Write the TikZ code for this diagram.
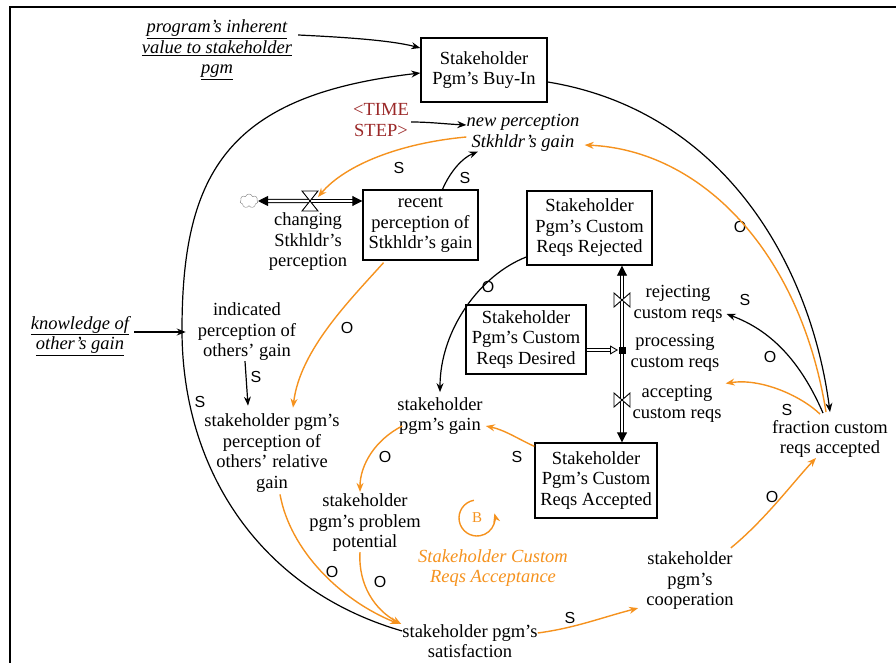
\documentclass[tikz,border=0pt]{standalone}
\usepackage{fontspec}
\setmainfont{Liberation Serif}
\newfontfamily\lblfont{Liberation Sans}
\usetikzlibrary{arrows.meta,shapes.symbols,calc}
\definecolor{vorange}{RGB}{245,146,30}
\definecolor{vred}{RGB}{155,40,40}
\begin{document}
\begin{tikzpicture}[x=1pt,y=-1pt,
  txt/.style={font=\fontsize{18.5}{20.5}\selectfont, align=center, inner sep=0pt},
  itxt/.style={font=\fontsize{18.5}{20.5}\selectfont\itshape, align=center, inner sep=0pt},
  stock/.style={txt, draw, line width=1.4pt},
  pol/.style={font=\lblfont\fontsize{16}{16}\selectfont, inner sep=0pt},
  tipa/.style={-{Stealth[length=9pt,width=7pt]}},
  blk/.style={draw=black, line width=1.2pt, tipa},
  org/.style={draw=vorange, line width=1.4pt, tipa},
  pipe/.style={draw=black, line width=0.9pt, double=white, double distance=2.4pt},
  ptip/.style={-{Triangle[length=10pt,width=10pt]}},
  valve/.style={draw=black, fill=white, line width=0.9pt},
]
\useasboundingbox (0,0) rectangle (896,663);
\draw[line width=2.6pt] (10,670) -- (10,7) -- (900,7);

% stocks
\node[stock, minimum width=126pt, minimum height=64pt] (buyin) at (484,70) {Stakeholder\\Pgm's Buy-In};
\node[stock, minimum width=115pt, minimum height=70pt] (recent) at (420.5,225) {recent\\perception of\\Stkhldr's gain};
\node[stock, minimum width=125pt, minimum height=74pt] (rejected) at (589.5,228) {Stakeholder\\Pgm's Custom\\Reqs Rejected};
\node[stock, minimum width=120pt, minimum height=69pt] (desired) at (526,339.5) {Stakeholder\\Pgm's Custom\\Reqs Desired};
\node[stock, minimum width=122pt, minimum height=75pt] (accepted) at (596,480.5) {Stakeholder\\Pgm's Custom\\Reqs Accepted};

% variables
\node[itxt] (prog) at (217,50) {\underline{program's inherent}\\\underline{value to stakeholder}\\\underline{pgm}};
\node[txt, text=vred] (tstep) at (381,120) {<TIME\\STEP>};
\node[itxt] (newperc) at (523,133) {new perception\\Stkhldr's gain};
\coordinate (cvalve) at (310,201);
\node[cloud, draw=gray, fill=white, minimum width=18pt, minimum height=14pt, cloud puffs=7, inner sep=0pt] (cld) at (249,201) {};
\node[txt] (changing) at (308,242) {changing\\Stkhldr's\\perception};
\node[itxt] (knowledge) at (80,336) {\underline{knowledge of}\\\underline{other's gain}};
\node[txt] (indicated) at (247,332) {indicated\\perception of\\others' gain};
\node[txt] (relgain) at (272,453) {stakeholder pgm's\\perception of\\others' relative\\gain};
\node[txt] (gain) at (440,416) {stakeholder\\pgm's gain};
\node[txt] (problem) at (365,523) {stakeholder\\pgm's problem\\potential};
\node[txt] (satis) at (470,641) {stakeholder pgm's\\satisfaction};
\node[txt] (coop) at (690,581) {stakeholder\\pgm's\\cooperation};
\node[txt] (fraction) at (830,439) {fraction custom\\reqs accepted};
\coordinate (rvalve) at (622,300);
\coordinate (pvalve) at (622,350);
\coordinate (avalve) at (622,400);
\node[txt] (rejecting) at (678,304) {rejecting\\custom reqs};
\node[txt] (processing) at (675,353) {processing\\custom reqs};
\node[txt] (accepting) at (677,404) {accepting\\custom reqs};
\node[itxt, text=vorange] (looplbl) at (493,568) {Stakeholder Custom\\Reqs Acceptance};

% pipes
\draw[pipe, ptip] (cvalve) -- (cld.east);
\draw[pipe, ptip] (cvalve) -- (cvalve -| recent.west);
\draw[pipe, ptip] (pvalve) -- (pvalve |- rejected.south);
\draw[pipe, ptip] (pvalve) -- (pvalve |- accepted.north);
\draw[pipe, -{Triangle[open,length=8pt,width=9pt]}] (desired.east |- pvalve) -- ($(pvalve)+(-4,0)$);
\draw[valve] ($(cvalve)+(-8,-10)$) -- ++(16,0) -- ++(-16,20) -- ++(16,0) -- cycle;
\draw[valve] ($(rvalve)+(-8,-7)$) -- ++(0,14) -- ++(16,-14) -- ++(0,14) -- cycle;
\draw[valve] ($(avalve)+(-8,-7)$) -- ++(0,14) -- ++(16,-14) -- ++(0,14) -- cycle;
\fill ($(pvalve)+(-3.5,-3.5)$) rectangle ++(7,7);

% black links
\draw[blk] ($(prog.east)+(6,-15)$) .. controls (340,37) and (390,40) .. ($(buyin.west)+(0,-22)$);
\draw[blk] ($(satis.west)+(0,-10)$) .. controls (260,590) and (182,470) .. (182,330)
   .. controls (182,170) and (230,95) .. ($(buyin.west)+(0,3)$);
\node[pol] (l1) at (200,402) {S};
\draw[blk] ($(buyin.east)+(0,12)$) .. controls (720,110) and (810,260) .. ($(fraction.north)+(0,-8)$);
\node[pol] (l2) at (740,227) {O};
\draw[blk] ($(tstep.east)+(2,2)$) .. controls (430,122) and (445,124) .. ($(newperc.west)+(0,-8)$);
\draw[blk] ($(recent.north)+(22,0)$) .. controls (450,172) and (462,158) .. ($(newperc.south)+(-45,0)$);
\node[pol] (l3) at (465,178) {S};
\draw[blk] ($(knowledge.east)+(5,-4)$) -- ($(indicated.west)+(-12,0)$);
\draw[blk] ($(indicated.south)+(-2,0)$) -- ($(relgain.north)+(-24,-8)$);
\node[pol] (l4) at (256,377) {S};
\draw[blk] ($(rejected.west)+(0,29)$) .. controls (480,275) and (440,330) .. ($(gain.north)+(0,-5)$);
\node[pol] (l5) at (488,287) {O};
\draw[blk] ($(fraction.north)+(-7,-7)$) .. controls (800,360) and (770,330) .. ($(rejecting.east)+(4,10)$);
\node[pol] (l6) at (770,357) {O};

% orange links
\draw[org] ($(newperc.west)+(0,4)$) .. controls (400,143) and (345,165) .. ($(cvalve)+(8,-4)$);
\node[pol] (l7) at (399,168) {S};
\draw[org] ($(fraction.north)+(-4,-8)$) .. controls (800,250) and (700,150) .. ($(newperc.east)+(5,12)$);
\node[pol] (l8) at (745,300) {S};
\draw[org] ($(fraction.north)+(-10,-6)$) .. controls (800,395) and (760,378) .. ($(accepting.north east)+(4,-2)$);
\node[pol] (l9) at (787,410) {S};
\draw[org] ($(coop.north east)+(-3,-4)$) .. controls (765,520) and (795,480) .. ($(fraction.south)+(-14,0)$);
\node[pol] (l10) at (772,497) {O};
\draw[org] ($(satis.east)+(0,-8)$) .. controls (575,628) and (600,618) .. ($(coop.south west)+(-8,-2)$);
\node[pol] (l11) at (570,618) {S};
\draw[org] ($(relgain.south)+(8,2)$) .. controls (290,550) and (340,600) .. ($(satis.west)+(-3,-17)$);
\node[pol] (l12) at (332,572) {O};
\draw[org] ($(problem.south)+(-5,0)$) .. controls (358,585) and (375,610) .. ($(satis.west)+(-1,-17)$);
\node[pol] (l13) at (380,582) {O};
\draw[org] ($(gain.west)+(5,10)$) .. controls (375,440) and (360,465) .. ($(problem.north)+(-5,-2)$);
\node[pol] (l14) at (385,457) {O};
\draw[org] ($(accepted.north west)+(0,4)$) .. controls (520,440) and (505,430) .. ($(gain.east)+(3,10)$);
\node[pol] (l15) at (517,457) {S};
\draw[org] ($(recent.south)+(-37,2)$) .. controls (350,300) and (300,350) .. ($(relgain.north)+(21,-6)$);
\node[pol] (l16) at (347,328) {O};

% loop symbol
\begin{scope}[shift={(477,518)}, yscale=-1]
\draw[org, line width=1.4pt] (100:18) arc[start angle=100, end angle=375, radius=18];
\node[txt, text=vorange, font=\fontsize{15}{15}\selectfont] (bsym) at (0,0) {B};
\end{scope}
\end{tikzpicture}
\end{document}
